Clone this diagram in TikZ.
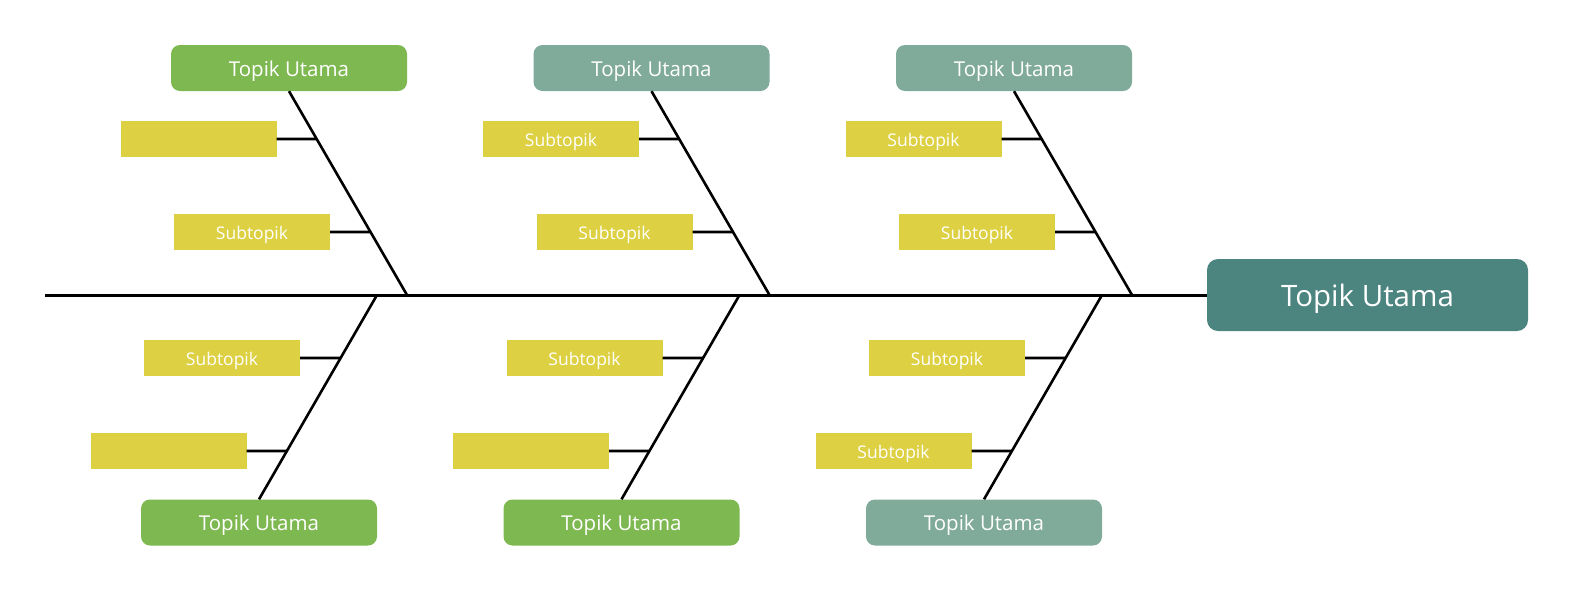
\documentclass[tikz,border=0pt]{standalone}
\usepackage{fontspec}
\setmainfont{Open Sans}
\definecolor{cgreen}{RGB}{126,184,81}
\definecolor{cgrey}{RGB}{128,170,153}
\definecolor{cmain}{RGB}{76,132,127}
\definecolor{cyel}{RGB}{221,208,66}
\begin{document}
\begin{tikzpicture}[x=1pt,y=-1pt,
  topic/.style={rounded corners=9pt, minimum width=236pt, minimum height=46pt, inner sep=0pt, text=white, text height=16.6pt, text depth=0pt, font=\fontsize{20.5}{24}\selectfont},
  maintopic/.style={rounded corners=11pt, fill=cmain, minimum width=321pt, minimum height=72pt, inner sep=0pt, text=white, text height=23pt, text depth=0pt, font=\fontsize{29.5}{34}\selectfont},
  subbox/.style={fill=cyel, minimum width=156pt, minimum height=36pt, inner sep=0pt, text=white, text height=14.4pt, text depth=0pt, font=\fontsize{17.5}{21}\selectfont},
  bone/.style={line width=2.6pt, black},
  spine/.style={line width=3pt, black}]
\useasboundingbox (0,0) rectangle (1573,606);
\node[maintopic] (main) at (1367.5,295) {Topik Utama};
\coordinate (start) at (45,295);
\draw[spine] (start) -- (main.west);
\foreach \i/\tc/\bc/\ta/\tb/\bx/\by in {0/cgreen/cgreen//Subtopik/Subtopik/,1/cgrey/cgreen/Subtopik/Subtopik/Subtopik/,2/cgrey/cgrey/Subtopik/Subtopik/Subtopik/Subtopik}{
  \pgfmathsetmacro{\dx}{\i*362.5}
  % top branch
  \node[topic, fill=\tc] (t\i) at ({289+\dx},68) {Topik Utama};
  \coordinate (jt\i) at ({407+\dx},295);
  \node[subbox] (sa\i) at ({198.5+\dx},139) {\ta};
  \node[subbox] (sb\i) at ({252+\dx},232) {\tb};
  \draw[bone] (t\i.south) -- (jt\i);
  \draw[bone] (sa\i.east) -- (intersection cs: first line={(t\i.south)--(jt\i)}, second line={(sa\i.east)--(sa\i.west)});
  \draw[bone] (sb\i.east) -- (intersection cs: first line={(t\i.south)--(jt\i)}, second line={(sb\i.east)--(sb\i.west)});
  % bottom branch
  \node[topic, fill=\bc] (b\i) at ({259+\dx},522.5) {Topik Utama};
  \coordinate (jb\i) at ({377+\dx},295);
  \node[subbox] (sc\i) at ({222+\dx},358) {\bx};
  \node[subbox] (sd\i) at ({168.5+\dx},451) {\by};
  \draw[bone] (jb\i) -- (b\i.north);
  \draw[bone] (sc\i.east) -- (intersection cs: first line={(b\i.north)--(jb\i)}, second line={(sc\i.east)--(sc\i.west)});
  \draw[bone] (sd\i.east) -- (intersection cs: first line={(b\i.north)--(jb\i)}, second line={(sd\i.east)--(sd\i.west)});
}
\end{tikzpicture}
\end{document}
